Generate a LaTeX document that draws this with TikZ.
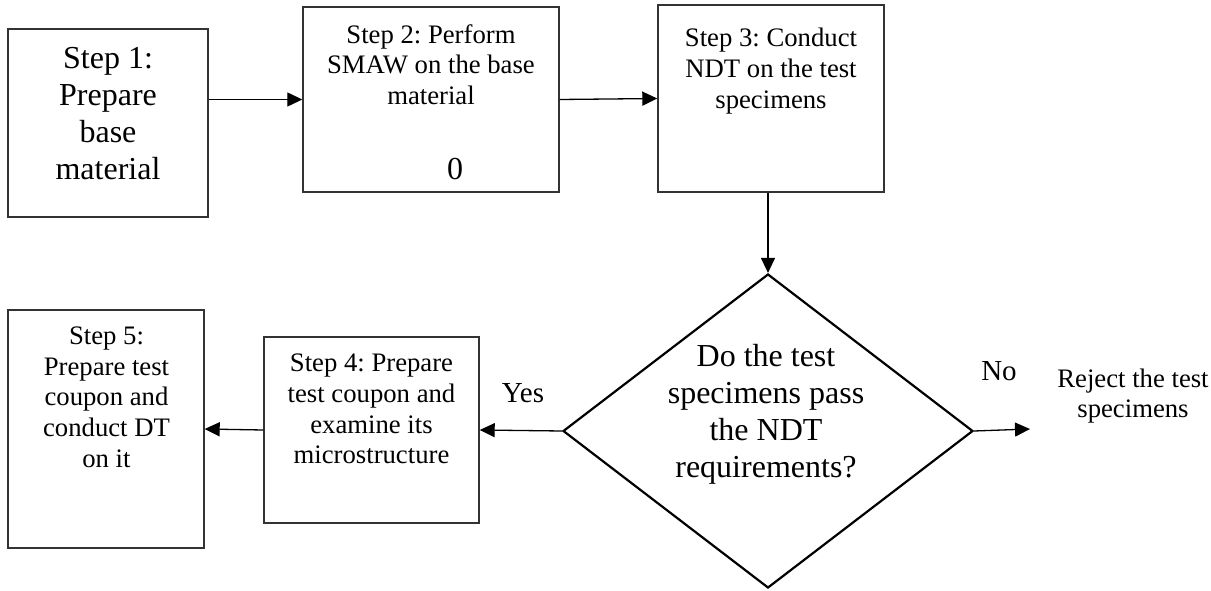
\documentclass[tikz,border=0pt]{standalone}
\usepackage{fontspec}
\setmainfont{Liberation Serif}
\frenchspacing
\usetikzlibrary{arrows.meta,shapes.geometric,calc}
\tikzset{
  stepbox/.style={draw=black!80, line width=1.4pt, rectangle, inner sep=0pt},
  decision/.style={draw=black, line width=2.2pt, diamond, inner sep=0pt,
    minimum width=410pt, minimum height=314pt},
  lbl/.style={inner sep=0pt, align=center, anchor=north},
  smalltext/.style={font=\fontsize{26.7}{30.7}\selectfont},
  bigtext/.style={font=\fontsize{32}{36.8}\selectfont},
  yntext/.style={inner sep=0pt, anchor=base, font=\fontsize{29}{33}\selectfont},
  arr/.style={draw=black, line width=1.3pt, -{Triangle[length=15pt,width=14pt]}},
}
\begin{document}
\begin{tikzpicture}[x=1pt,y=-1pt]
\useasboundingbox (0,0) rectangle (1211,591);
% boxes
\node[stepbox, minimum width=200pt, minimum height=188pt] (b1) at (108,123) {};
\node[stepbox, minimum width=256pt, minimum height=185pt] (b2) at (431,99.5) {};
\node[stepbox, minimum width=226pt, minimum height=187pt] (b3) at (771,98.5) {};
\node[stepbox, minimum width=215pt, minimum height=186pt] (b4) at (371.5,430) {};
\node[stepbox, minimum width=196pt, minimum height=238pt] (b5) at (106,429) {};
\node[decision] (d) at (768,431) {};
% texts
\node[lbl, bigtext] (t1) at (108,42.8) {\strut Step 1:\\Prepare\\base\\material};
\node[lbl, smalltext] (t2) at (431,21.5) {\strut Step 2: Perform\\SMAW on the base\\material};
\node[inner sep=0pt, anchor=base, bigtext] (zero) at (455,179) {0};
\node[lbl, smalltext] (t3) at (771,25.2) {\strut Step 3: Conduct\\NDT on the test\\specimens};
\node[lbl, smalltext] (t4) at (371.5,350.2) {\strut Step 4: Prepare\\test coupon and\\examine its\\microstructure};
\node[lbl, smalltext] (t5) at (106.5,322.8) {\strut Step 5:\\Prepare test\\coupon and\\conduct DT\\on it};
\node[lbl, bigtext] (tq) at (766,340.8) {\strut Do the test\\specimens pass\\the NDT\\requirements?};
\node[yntext] (yes) at (523,402) {Yes};
\node[yntext] (no) at (999,380) {No};
\node[lbl, smalltext] (rej) at (1133,365.5) {\strut Reject the test\\specimens};
\coordinate (rejin) at (1030,429);
% connectors
\draw[arr] (b1.east |- b2.west) -- (b2.west);
\draw[arr] (b2.east) -- (b3.west);
\draw[arr] (d.north |- b3.south) -- (d.north);
\draw[arr] (d.west) -- (b4.east);
\draw[arr] (b4.west) -- (b5.east);
\draw[arr] (d.east) -- (rejin);
\end{tikzpicture}
\end{document}
